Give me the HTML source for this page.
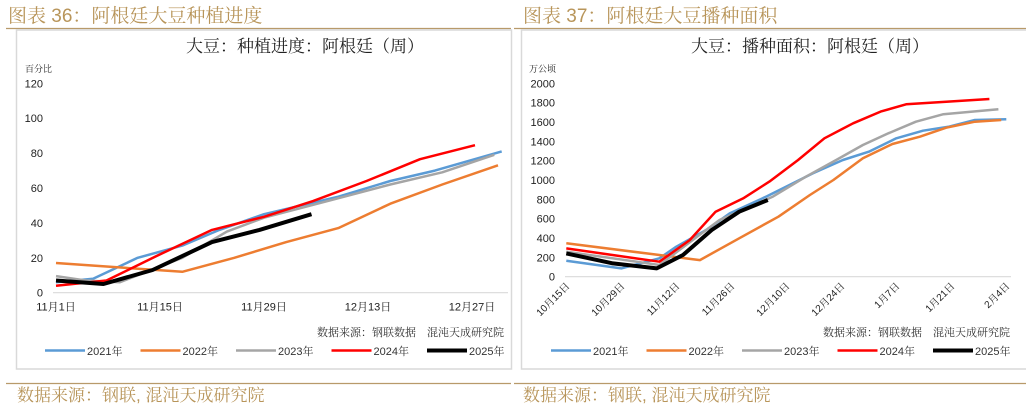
<!DOCTYPE html>
<html><head><meta charset="utf-8"><style>
body{margin:0;background:#fff;width:1026px;height:406px;overflow:hidden}
svg text{font-family:"Liberation Sans","Noto Serif CJK SC","Noto Sans CJK SC",sans-serif}
.h{font-family:"Liberation Sans","Noto Serif CJK SC",serif !important;fill:#b8955a;font-size:19px}
.t{font-family:"Liberation Sans","Noto Serif CJK SC",serif !important;fill:#222;font-size:17px}
.tk{font-size:11px;fill:#222}
.src{font-family:"Liberation Sans","Noto Serif CJK SC",serif !important;font-size:11px;fill:#333}
</style></head><body>
<svg id="s" width="1026" height="406" xmlns="http://www.w3.org/2000/svg">
<text class="h" x="8" y="22">图表 36：阿根廷大豆种植进度</text>
<text class="h" x="523" y="22">图表 37：阿根廷大豆播种面积</text>
<line x1="6" y1="28.5" x2="511" y2="28.5" stroke="#b89a6a" stroke-width="1.2"/>
<line x1="514" y1="28.5" x2="1026" y2="28.5" stroke="#b89a6a" stroke-width="1.2"/>
<rect x="16.5" y="30" width="495" height="339" fill="none" stroke="#d9d9d9" stroke-width="1.5"/>
<rect x="521.5" y="30" width="510" height="339" fill="none" stroke="#d9d9d9" stroke-width="1.5"/>
<line x1="6" y1="383.5" x2="511" y2="383.5" stroke="#b89a6a" stroke-width="1.2"/>
<line x1="514" y1="383.5" x2="1026" y2="383.5" stroke="#b89a6a" stroke-width="1.2"/>
<text class="h" x="17" y="401" style="font-size:17px">数据来源：钢联, 混沌天成研究院</text>
<text class="h" x="523" y="401" style="font-size:17px">数据来源：钢联, 混沌天成研究院</text>
<text class="t" x="305" y="52" text-anchor="middle">大豆：种植进度：阿根廷（周）</text>
<text class="t" x="810" y="52" text-anchor="middle">大豆：播种面积：阿根廷（周）</text>
<text x="25" y="72" style="font-size:9px;fill:#222">百分比</text>
<text x="529" y="72" style="font-size:9px;fill:#222">万公顷</text>
<text class="src" x="317" y="336">数据来源：钢联数据　混沌天成研究院</text>
<text class="src" x="823" y="336">数据来源：钢联数据　混沌天成研究院</text>
<g id="L"></g><g id="R"></g>
</svg>
<script>
const years=['2021年','2022年','2023年','2024年','2025年'];
const colors=['#5b9bd5','#ed7d31','#a5a5a5','#ff0000','#000000'];
const widths=[2.5,2.5,2.5,2.5,4];
// left chart: planting progress (%) ; days since Nov 1
const leftTicks=[0,20,40,60,80,100,120];
const leftXLabels=['11月1日','11月15日','11月29日','12月13日','12月27日'];
const leftDays2021=[0,5,11,17,22,28,34,38,45,51,60];
const leftVals2021=[6,8,20,27,36,45,51,55,64,70,81];
const leftDays2022=[0,17,24,31,38,45,52,59.5];
const leftVals2022=[17,12,20,29,37,51,62,73];
const leftDays2023=[0,4,8.6,17,23,28,37,45,52,59];
const leftVals2023=[9.5,7,6,20,35,43,53,62,69,79];
const leftDays2024=[0,6.8,13.5,21,28,34.6,41.8,49,56.4];
const leftVals2024=[4,7,21,36,43.5,52.5,64,76.5,84.5];
const leftDays2025=[0,6.4,13,21,27.4,34.4];
const leftVals2025=[7,5,13,29,36,45];
// right chart: planting area (10k ha); days since Oct 15
const rightTicks=[0,200,400,600,800,1000,1200,1400,1600,1800,2000];
const rightXLabels=['10月15日','10月29日','11月12日','11月26日','12月10日','12月24日','1月7日','1月21日','2月4日'];
const rightDays2021=[0,14,23.7,28,35.6,41.6,51,62.8,70.4,77,84,90.8,97.5,104,112];
const rightVals2021=[165,86,190,310,483,655,830,1070,1207,1293,1431,1510,1552,1620,1628];
const rightDays2022=[0,23.7,34,44,54,62,68,75.5,83,90,96.7,104,110.7];
const rightVals2022=[345,224,172,397,620,845,1000,1224,1372,1448,1541,1603,1620];
const rightDays2023=[0,23.7,28.8,39,52.6,61,68.7,75.5,82,89,96,110];
const rightVals2023=[259,121,276,586,828,1034,1207,1362,1483,1603,1680,1731];
const rightDays2024=[0,23.7,31.4,38,45,51.7,59,65.7,73,80,86.5,96.7,107.7];
const rightVals2024=[293,155,379,672,810,983,1207,1431,1586,1707,1783,1810,1838];
const rightDays2025=[0,11.9,23,29.7,37,44,51.3];
const rightVals2025=[241,138,86,224,483,672,793];

const NS='http://www.w3.org/2000/svg';
function mk(p,tag,a){const e=document.createElementNS(NS,tag);for(const k in a)e.setAttribute(k,a[k]);p.appendChild(e);return e;}
function draw(g,cfg){
  const x=d=>cfg.x0+d*cfg.pxDay, y=v=>cfg.y0-(v/cfg.max)*(cfg.y0-cfg.yTop);
  const base=mk(g,'line',{x1:cfg.axL,x2:cfg.axR,y1:cfg.y0,y2:cfg.y0,stroke:'#d9d9d9','stroke-width':1.2});
  
  
  cfg.ticks.forEach(t=>{const e=mk(g,'text',{x:cfg.tickX,y:y(t)+4,'text-anchor':'end',class:'tk'});e.textContent=t;
    
    });
  cfg.xl.forEach((l,i)=>{let e;
    const xx=x(i*14);
    if(cfg.rot){e=mk(g,'text',{x:xx+4,y:cfg.y0+10,'text-anchor':'end',class:'tk',transform:`rotate(-45 ${xx+4} ${cfg.y0+10})`,style:'font-size:10px'});}
    else e=mk(g,'text',{x:xx,y:cfg.y0+18,'text-anchor':'middle',class:'tk'});
    e.textContent=l;
    
    });
  cfg.series.forEach((s,i)=>{
    const pts=s[0].map((d,j)=>x(d).toFixed(1)+','+y(s[1][j]).toFixed(1)).join(' ');
    const pl=mk(g,'polyline',{points:pts,fill:'none',stroke:colors[i],'stroke-width':widths[i],'stroke-linejoin':'round'});
    
    
    const lx=cfg.legX+i*cfg.legStep;
    const ll=mk(g,'line',{x1:lx,x2:lx+40,y1:350.5,y2:350.5,stroke:colors[i],'stroke-width':widths[i]});
    
    
    const lt=mk(g,'text',{x:lx+42,y:355,style:'font-size:11px;fill:#333'});lt.textContent=years[i];
    
    
  });
}
draw(document.getElementById('L'),{p:'left',x0:56,pxDay:104/14,y0:292.7,yTop:83.3,max:120,axL:53,axR:508,tickX:43,ticks:leftTicks,xl:leftXLabels,rot:false,legX:45,legStep:95.5,
  series:[[leftDays2021,leftVals2021],[leftDays2022,leftVals2022],[leftDays2023,leftVals2023],[leftDays2024,leftVals2024],[leftDays2025,leftVals2025]]});
draw(document.getElementById('R'),{p:'right',x0:566.3,pxDay:55/14,y0:276.7,yTop:83.3,max:2000,axL:565,axR:1011,tickX:555,ticks:rightTicks,xl:rightXLabels,rot:true,legX:551,legStep:95.5,
  series:[[rightDays2021,rightVals2021],[rightDays2022,rightVals2022],[rightDays2023,rightVals2023],[rightDays2024,rightVals2024],[rightDays2025,rightVals2025]]});
</script>
</body></html>
